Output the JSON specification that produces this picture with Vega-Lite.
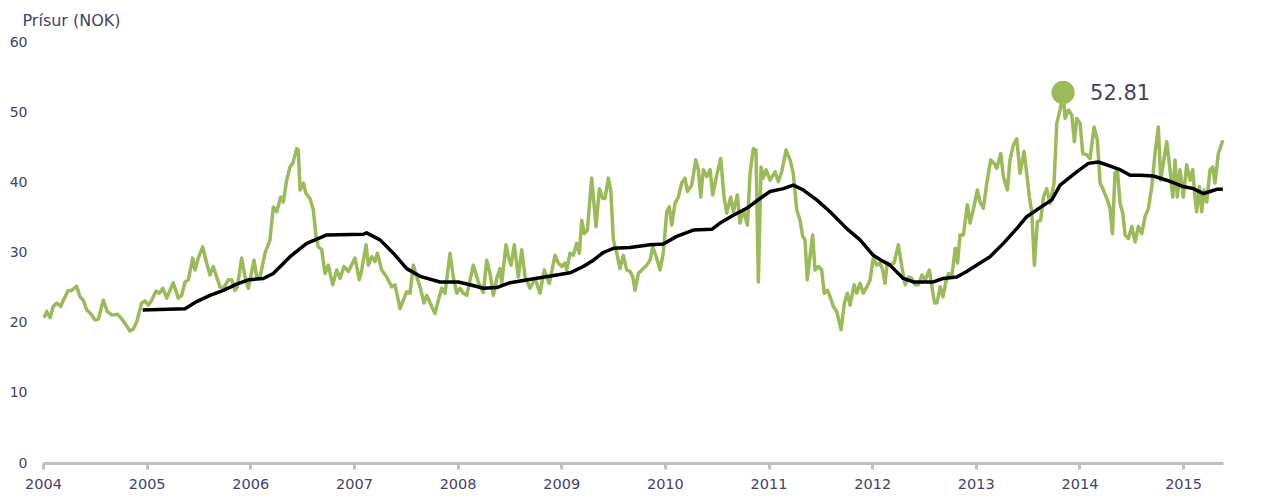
{
  "$schema": "https://vega.github.io/schema/vega-lite/v6.json",
  "width": 1180,
  "height": 421,
  "autosize": "none",
  "padding": {"left": 43, "top": 42, "right": 51, "bottom": 33},
  "background": "white",
  "config": {
    "view": {"stroke": null},
    "font": "DejaVu Sans"
  },
  "datasets": {
    "weekly": [
      {"year": 2004.010, "price": 20.7}, {"year": 2004.036, "price": 21.6}, {"year": 2004.068, "price": 20.7}, {"year": 2004.099, "price": 22.3},
      {"year": 2004.132, "price": 22.8}, {"year": 2004.171, "price": 22.3}, {"year": 2004.196, "price": 23.2}, {"year": 2004.244, "price": 24.6},
      {"year": 2004.277, "price": 24.6}, {"year": 2004.325, "price": 25.2}, {"year": 2004.357, "price": 23.7}, {"year": 2004.389, "price": 23.2},
      {"year": 2004.422, "price": 21.8}, {"year": 2004.453, "price": 21.4}, {"year": 2004.502, "price": 20.4}, {"year": 2004.534, "price": 20.5},
      {"year": 2004.582, "price": 23.2}, {"year": 2004.620, "price": 21.6}, {"year": 2004.663, "price": 21.1}, {"year": 2004.717, "price": 21.2},
      {"year": 2004.750, "price": 20.7}, {"year": 2004.791, "price": 19.9}, {"year": 2004.839, "price": 18.8}, {"year": 2004.871, "price": 19.1},
      {"year": 2004.904, "price": 20.1}, {"year": 2004.952, "price": 22.8}, {"year": 2004.984, "price": 23.1}, {"year": 2005.016, "price": 22.5},
      {"year": 2005.049, "price": 23.2}, {"year": 2005.090, "price": 24.5}, {"year": 2005.122, "price": 24.2}, {"year": 2005.155, "price": 24.9},
      {"year": 2005.194, "price": 23.5}, {"year": 2005.225, "price": 24.6}, {"year": 2005.257, "price": 25.7}, {"year": 2005.305, "price": 23.5},
      {"year": 2005.338, "price": 23.9}, {"year": 2005.370, "price": 25.8}, {"year": 2005.402, "price": 26.1}, {"year": 2005.444, "price": 29.2},
      {"year": 2005.467, "price": 27.5}, {"year": 2005.498, "price": 29.2}, {"year": 2005.541, "price": 30.8}, {"year": 2005.579, "price": 28.5},
      {"year": 2005.611, "price": 26.8}, {"year": 2005.643, "price": 28.0}, {"year": 2005.676, "price": 26.5}, {"year": 2005.708, "price": 25.1},
      {"year": 2005.740, "price": 24.9}, {"year": 2005.788, "price": 26.1}, {"year": 2005.821, "price": 26.1}, {"year": 2005.853, "price": 24.6},
      {"year": 2005.875, "price": 25.1}, {"year": 2005.917, "price": 29.2}, {"year": 2005.949, "price": 26.5}, {"year": 2005.981, "price": 24.9},
      {"year": 2006.036, "price": 28.9}, {"year": 2006.062, "price": 26.5}, {"year": 2006.094, "price": 26.5}, {"year": 2006.142, "price": 29.9},
      {"year": 2006.190, "price": 31.8}, {"year": 2006.222, "price": 36.5}, {"year": 2006.255, "price": 35.8}, {"year": 2006.293, "price": 37.9},
      {"year": 2006.319, "price": 37.2}, {"year": 2006.351, "price": 40.3}, {"year": 2006.383, "price": 42.2}, {"year": 2006.409, "price": 42.7},
      {"year": 2006.448, "price": 44.8}, {"year": 2006.463, "price": 44.6}, {"year": 2006.480, "price": 38.9}, {"year": 2006.512, "price": 39.9},
      {"year": 2006.538, "price": 38.4}, {"year": 2006.576, "price": 37.7}, {"year": 2006.608, "price": 36.1}, {"year": 2006.634, "price": 32.3},
      {"year": 2006.656, "price": 30.8}, {"year": 2006.689, "price": 30.4}, {"year": 2006.721, "price": 27.0}, {"year": 2006.753, "price": 28.2},
      {"year": 2006.795, "price": 25.4}, {"year": 2006.834, "price": 27.5}, {"year": 2006.866, "price": 26.3}, {"year": 2006.904, "price": 28.0},
      {"year": 2006.946, "price": 27.3}, {"year": 2007.010, "price": 29.2}, {"year": 2007.052, "price": 26.1}, {"year": 2007.075, "price": 27.5},
      {"year": 2007.117, "price": 31.1}, {"year": 2007.139, "price": 28.2}, {"year": 2007.172, "price": 29.4}, {"year": 2007.203, "price": 28.7},
      {"year": 2007.226, "price": 29.9}, {"year": 2007.268, "price": 27.5}, {"year": 2007.316, "price": 26.5}, {"year": 2007.365, "price": 25.1},
      {"year": 2007.396, "price": 25.4}, {"year": 2007.445, "price": 22.0}, {"year": 2007.476, "price": 23.2}, {"year": 2007.509, "price": 24.4},
      {"year": 2007.541, "price": 24.2}, {"year": 2007.573, "price": 28.2}, {"year": 2007.606, "price": 26.5}, {"year": 2007.638, "price": 25.1},
      {"year": 2007.676, "price": 22.8}, {"year": 2007.702, "price": 23.9}, {"year": 2007.750, "price": 22.3}, {"year": 2007.782, "price": 21.3},
      {"year": 2007.814, "price": 23.2}, {"year": 2007.847, "price": 24.9}, {"year": 2007.879, "price": 24.2}, {"year": 2007.927, "price": 29.9},
      {"year": 2007.959, "price": 26.5}, {"year": 2007.992, "price": 24.2}, {"year": 2008.023, "price": 24.9}, {"year": 2008.055, "price": 24.2},
      {"year": 2008.088, "price": 23.9}, {"year": 2008.152, "price": 28.2}, {"year": 2008.200, "price": 25.8}, {"year": 2008.248, "price": 24.3},
      {"year": 2008.281, "price": 28.9}, {"year": 2008.313, "price": 27.0}, {"year": 2008.345, "price": 23.9}, {"year": 2008.378, "price": 26.3},
      {"year": 2008.409, "price": 27.7}, {"year": 2008.426, "price": 25.6}, {"year": 2008.467, "price": 31.1}, {"year": 2008.490, "price": 29.4},
      {"year": 2008.516, "price": 28.2}, {"year": 2008.547, "price": 31.1}, {"year": 2008.586, "price": 26.5}, {"year": 2008.619, "price": 30.4},
      {"year": 2008.651, "price": 26.5}, {"year": 2008.699, "price": 24.9}, {"year": 2008.747, "price": 26.3}, {"year": 2008.795, "price": 24.2},
      {"year": 2008.837, "price": 27.5}, {"year": 2008.885, "price": 25.6}, {"year": 2008.940, "price": 29.6}, {"year": 2008.972, "price": 28.5},
      {"year": 2009.005, "price": 28.0}, {"year": 2009.037, "price": 28.5}, {"year": 2009.053, "price": 27.5}, {"year": 2009.085, "price": 29.9},
      {"year": 2009.117, "price": 29.6}, {"year": 2009.149, "price": 31.3}, {"year": 2009.175, "price": 29.9}, {"year": 2009.198, "price": 34.6},
      {"year": 2009.223, "price": 32.7}, {"year": 2009.252, "price": 33.2}, {"year": 2009.294, "price": 40.6}, {"year": 2009.336, "price": 33.7},
      {"year": 2009.368, "price": 39.1}, {"year": 2009.400, "price": 37.7}, {"year": 2009.423, "price": 37.7}, {"year": 2009.454, "price": 40.6},
      {"year": 2009.478, "price": 38.9}, {"year": 2009.503, "price": 31.8}, {"year": 2009.536, "price": 29.9}, {"year": 2009.567, "price": 27.7},
      {"year": 2009.599, "price": 29.6}, {"year": 2009.632, "price": 27.5}, {"year": 2009.664, "price": 27.3}, {"year": 2009.690, "price": 26.5},
      {"year": 2009.712, "price": 24.6}, {"year": 2009.744, "price": 27.0}, {"year": 2009.777, "price": 27.5}, {"year": 2009.825, "price": 28.2},
      {"year": 2009.857, "price": 28.9}, {"year": 2009.883, "price": 30.8}, {"year": 2009.921, "price": 29.2}, {"year": 2009.953, "price": 27.5},
      {"year": 2009.985, "price": 29.9}, {"year": 2010.018, "price": 35.8}, {"year": 2010.043, "price": 36.5}, {"year": 2010.066, "price": 33.9},
      {"year": 2010.098, "price": 37.0}, {"year": 2010.130, "price": 37.9}, {"year": 2010.163, "price": 39.9}, {"year": 2010.194, "price": 40.6},
      {"year": 2010.217, "price": 38.7}, {"year": 2010.259, "price": 39.6}, {"year": 2010.298, "price": 43.2}, {"year": 2010.323, "price": 41.8},
      {"year": 2010.346, "price": 37.9}, {"year": 2010.371, "price": 41.8}, {"year": 2010.404, "price": 40.8}, {"year": 2010.436, "price": 41.8},
      {"year": 2010.462, "price": 38.2}, {"year": 2010.494, "price": 40.6}, {"year": 2010.539, "price": 43.4}, {"year": 2010.571, "price": 37.9},
      {"year": 2010.597, "price": 35.6}, {"year": 2010.635, "price": 37.9}, {"year": 2010.661, "price": 35.8}, {"year": 2010.699, "price": 38.2},
      {"year": 2010.725, "price": 34.2}, {"year": 2010.757, "price": 36.1}, {"year": 2010.796, "price": 33.9}, {"year": 2010.822, "price": 41.3},
      {"year": 2010.853, "price": 44.8}, {"year": 2010.879, "price": 44.6}, {"year": 2010.902, "price": 25.8}, {"year": 2010.928, "price": 42.2},
      {"year": 2010.950, "price": 40.6}, {"year": 2010.976, "price": 41.8}, {"year": 2011.015, "price": 40.3}, {"year": 2011.063, "price": 41.5},
      {"year": 2011.095, "price": 40.1}, {"year": 2011.127, "price": 41.5}, {"year": 2011.169, "price": 44.6}, {"year": 2011.208, "price": 43.2},
      {"year": 2011.239, "price": 41.3}, {"year": 2011.272, "price": 36.1}, {"year": 2011.304, "price": 34.6}, {"year": 2011.330, "price": 32.3},
      {"year": 2011.352, "price": 31.8}, {"year": 2011.374, "price": 26.1}, {"year": 2011.400, "price": 29.4}, {"year": 2011.426, "price": 32.5},
      {"year": 2011.449, "price": 27.5}, {"year": 2011.481, "price": 28.0}, {"year": 2011.513, "price": 27.5}, {"year": 2011.538, "price": 24.2},
      {"year": 2011.571, "price": 24.6}, {"year": 2011.594, "price": 23.7}, {"year": 2011.625, "price": 22.3}, {"year": 2011.658, "price": 21.6},
      {"year": 2011.700, "price": 19.0}, {"year": 2011.732, "price": 22.8}, {"year": 2011.761, "price": 24.2}, {"year": 2011.787, "price": 22.5},
      {"year": 2011.826, "price": 25.4}, {"year": 2011.851, "price": 24.2}, {"year": 2011.883, "price": 25.6}, {"year": 2011.915, "price": 24.2},
      {"year": 2011.948, "price": 25.1}, {"year": 2011.979, "price": 26.0}, {"year": 2012.011, "price": 29.2}, {"year": 2012.043, "price": 28.2},
      {"year": 2012.075, "price": 28.5}, {"year": 2012.102, "price": 27.5}, {"year": 2012.124, "price": 25.6}, {"year": 2012.146, "price": 28.5},
      {"year": 2012.179, "price": 28.2}, {"year": 2012.211, "price": 28.5}, {"year": 2012.253, "price": 31.1}, {"year": 2012.286, "price": 28.0},
      {"year": 2012.318, "price": 25.4}, {"year": 2012.350, "price": 26.5}, {"year": 2012.383, "price": 26.3}, {"year": 2012.415, "price": 25.4},
      {"year": 2012.447, "price": 25.4}, {"year": 2012.480, "price": 26.8}, {"year": 2012.512, "price": 26.1}, {"year": 2012.552, "price": 27.5},
      {"year": 2012.577, "price": 25.1}, {"year": 2012.602, "price": 22.8}, {"year": 2012.625, "price": 22.8}, {"year": 2012.657, "price": 25.1},
      {"year": 2012.683, "price": 23.7}, {"year": 2012.715, "price": 26.1}, {"year": 2012.737, "price": 27.0}, {"year": 2012.770, "price": 26.8},
      {"year": 2012.802, "price": 30.6}, {"year": 2012.824, "price": 28.5}, {"year": 2012.848, "price": 32.5}, {"year": 2012.880, "price": 32.5},
      {"year": 2012.919, "price": 36.8}, {"year": 2012.944, "price": 34.2}, {"year": 2012.976, "price": 36.1}, {"year": 2013.015, "price": 38.9},
      {"year": 2013.041, "price": 37.2}, {"year": 2013.073, "price": 36.3}, {"year": 2013.106, "price": 39.9}, {"year": 2013.144, "price": 43.2},
      {"year": 2013.176, "price": 42.7}, {"year": 2013.202, "price": 42.0}, {"year": 2013.241, "price": 44.1}, {"year": 2013.266, "price": 40.8},
      {"year": 2013.304, "price": 38.9}, {"year": 2013.330, "price": 43.2}, {"year": 2013.362, "price": 45.3}, {"year": 2013.395, "price": 46.2},
      {"year": 2013.427, "price": 41.3}, {"year": 2013.465, "price": 44.4}, {"year": 2013.491, "price": 41.3}, {"year": 2013.517, "price": 37.9},
      {"year": 2013.540, "price": 35.8}, {"year": 2013.565, "price": 28.2}, {"year": 2013.594, "price": 34.4}, {"year": 2013.626, "price": 34.6},
      {"year": 2013.652, "price": 37.9}, {"year": 2013.684, "price": 39.1}, {"year": 2013.716, "price": 37.0}, {"year": 2013.755, "price": 39.9},
      {"year": 2013.781, "price": 48.4}, {"year": 2013.813, "price": 50.3}, {"year": 2013.842, "price": 52.81}, {"year": 2013.861, "price": 49.1},
      {"year": 2013.893, "price": 50.3}, {"year": 2013.926, "price": 49.6}, {"year": 2013.951, "price": 45.8}, {"year": 2013.974, "price": 49.1},
      {"year": 2014.006, "price": 48.4}, {"year": 2014.032, "price": 44.1}, {"year": 2014.071, "price": 43.9}, {"year": 2014.102, "price": 43.4},
      {"year": 2014.141, "price": 47.9}, {"year": 2014.173, "price": 46.0}, {"year": 2014.199, "price": 39.9}, {"year": 2014.231, "price": 38.9},
      {"year": 2014.264, "price": 37.7}, {"year": 2014.295, "price": 36.3}, {"year": 2014.318, "price": 32.7}, {"year": 2014.343, "price": 41.3},
      {"year": 2014.366, "price": 41.8}, {"year": 2014.392, "price": 37.0}, {"year": 2014.418, "price": 35.6}, {"year": 2014.440, "price": 32.5},
      {"year": 2014.472, "price": 32.0}, {"year": 2014.505, "price": 33.7}, {"year": 2014.537, "price": 31.5}, {"year": 2014.568, "price": 33.7},
      {"year": 2014.601, "price": 32.7}, {"year": 2014.633, "price": 35.1}, {"year": 2014.665, "price": 36.3}, {"year": 2014.698, "price": 39.4},
      {"year": 2014.729, "price": 44.1}, {"year": 2014.761, "price": 47.9}, {"year": 2014.784, "price": 40.3}, {"year": 2014.809, "price": 42.7},
      {"year": 2014.842, "price": 45.8}, {"year": 2014.874, "price": 41.8}, {"year": 2014.900, "price": 37.9}, {"year": 2014.922, "price": 43.2},
      {"year": 2014.944, "price": 37.9}, {"year": 2014.970, "price": 41.8}, {"year": 2015.002, "price": 37.9}, {"year": 2015.035, "price": 42.5},
      {"year": 2015.067, "price": 40.3}, {"year": 2015.093, "price": 41.8}, {"year": 2015.115, "price": 37.9}, {"year": 2015.131, "price": 35.8},
      {"year": 2015.157, "price": 39.4}, {"year": 2015.180, "price": 35.8}, {"year": 2015.202, "price": 38.9}, {"year": 2015.228, "price": 37.2},
      {"year": 2015.260, "price": 41.8}, {"year": 2015.286, "price": 42.2}, {"year": 2015.308, "price": 39.9}, {"year": 2015.340, "price": 44.1},
      {"year": 2015.383, "price": 46.0}
    ],
    "average": [
      {"year": 2004.962, "price": 21.8}, {"year": 2005.370, "price": 22.0}, {"year": 2005.483, "price": 23.0}, {"year": 2005.611, "price": 23.9},
      {"year": 2005.740, "price": 24.6}, {"year": 2005.869, "price": 25.5}, {"year": 2005.981, "price": 26.1}, {"year": 2006.126, "price": 26.3},
      {"year": 2006.222, "price": 27.0}, {"year": 2006.383, "price": 29.4}, {"year": 2006.544, "price": 31.3}, {"year": 2006.705, "price": 32.3},
      {"year": 2006.737, "price": 32.5}, {"year": 2007.090, "price": 32.6}, {"year": 2007.122, "price": 32.8}, {"year": 2007.252, "price": 31.8},
      {"year": 2007.380, "price": 29.9}, {"year": 2007.509, "price": 27.7}, {"year": 2007.638, "price": 26.6}, {"year": 2007.831, "price": 25.8},
      {"year": 2008.007, "price": 25.8}, {"year": 2008.120, "price": 25.4}, {"year": 2008.248, "price": 24.9}, {"year": 2008.378, "price": 25.0},
      {"year": 2008.506, "price": 25.7}, {"year": 2008.634, "price": 26.0}, {"year": 2008.795, "price": 26.4}, {"year": 2008.957, "price": 26.8},
      {"year": 2009.085, "price": 27.1}, {"year": 2009.213, "price": 28.0}, {"year": 2009.310, "price": 28.9}, {"year": 2009.406, "price": 30.0},
      {"year": 2009.503, "price": 30.6}, {"year": 2009.664, "price": 30.7}, {"year": 2009.857, "price": 31.1}, {"year": 2009.985, "price": 31.2},
      {"year": 2010.114, "price": 32.3}, {"year": 2010.275, "price": 33.2}, {"year": 2010.452, "price": 33.3}, {"year": 2010.532, "price": 34.2},
      {"year": 2010.661, "price": 35.3}, {"year": 2010.790, "price": 36.3}, {"year": 2010.918, "price": 37.7}, {"year": 2011.015, "price": 38.7},
      {"year": 2011.143, "price": 39.1}, {"year": 2011.239, "price": 39.6}, {"year": 2011.336, "price": 38.9}, {"year": 2011.465, "price": 37.5},
      {"year": 2011.594, "price": 35.8}, {"year": 2011.755, "price": 33.4}, {"year": 2011.883, "price": 31.8}, {"year": 2012.011, "price": 29.6},
      {"year": 2012.075, "price": 29.0}, {"year": 2012.172, "price": 28.2}, {"year": 2012.300, "price": 26.3}, {"year": 2012.397, "price": 25.8},
      {"year": 2012.590, "price": 25.8}, {"year": 2012.687, "price": 26.3}, {"year": 2012.816, "price": 26.5}, {"year": 2012.912, "price": 27.3},
      {"year": 2013.041, "price": 28.5}, {"year": 2013.137, "price": 29.4}, {"year": 2013.266, "price": 31.3}, {"year": 2013.395, "price": 33.4},
      {"year": 2013.491, "price": 35.1}, {"year": 2013.620, "price": 36.4}, {"year": 2013.733, "price": 37.5}, {"year": 2013.813, "price": 39.6},
      {"year": 2013.974, "price": 41.5}, {"year": 2014.086, "price": 42.7}, {"year": 2014.182, "price": 42.9}, {"year": 2014.264, "price": 42.5},
      {"year": 2014.392, "price": 41.8}, {"year": 2014.489, "price": 41.0}, {"year": 2014.586, "price": 41.0}, {"year": 2014.713, "price": 40.9},
      {"year": 2014.842, "price": 40.3}, {"year": 2015.002, "price": 39.4}, {"year": 2015.099, "price": 39.1}, {"year": 2015.195, "price": 38.4},
      {"year": 2015.260, "price": 38.7}, {"year": 2015.324, "price": 39.0}, {"year": 2015.383, "price": 39.0}
    ],
    "peak": [
      {"year": 2013.842, "price": 52.81}
    ]
  },
  "encoding": {
    "x": {
      "field": "year",
      "type": "quantitative",
      "scale": {"domain": [2004, 2015.385], "nice": false, "zero": false},
      "axis": {
        "values": [2004, 2005, 2006, 2007, 2008, 2009, 2010, 2011, 2012, 2013, 2014, 2015],
        "format": "d",
        "title": null,
        "grid": false,
        "domainColor": "#c0c0c0",
        "domainWidth": 3,
        "tickColor": "#c0c0c0",
        "tickWidth": 3,
        "tickSize": 6,
        "labelFont": "DejaVu Sans",
        "labelFontSize": 14.5,
        "labelColor": "#434366",
        "labelPadding": 8,
        "labelFlush": false
      }
    },
    "y": {
      "field": "price",
      "type": "quantitative",
      "scale": {"domain": [0, 60], "nice": false},
      "axis": {
        "values": [0, 10, 20, 30, 40, 50, 60],
        "title": "Prísur (NOK)",
        "titleAngle": 0,
        "titleAlign": "left",
        "titleBaseline": "middle",
        "titleX": -21,
        "titleY": -22,
        "titleFont": "DejaVu Sans",
        "titleFontSize": 16,
        "titleFontWeight": "normal",
        "titleColor": "#434366",
        "grid": false,
        "domain": false,
        "ticks": false,
        "labelFont": "DejaVu Sans",
        "labelFontSize": 14,
        "labelColor": "#434366",
        "labelPadding": 16
      }
    }
  },
  "layer": [
    {
      "data": {"name": "weekly"},
      "mark": {"type": "line", "color": "#9bbb59", "strokeWidth": 3.5, "strokeJoin": "round"}
    },
    {
      "data": {"name": "average"},
      "mark": {"type": "line", "color": "#000000", "strokeWidth": 3.5, "strokeJoin": "round"}
    },
    {
      "data": {"name": "peak"},
      "mark": {"type": "point", "filled": true, "color": "#9bbb59", "opacity": 1, "size": 540}
    },
    {
      "data": {"name": "peak"},
      "mark": {"type": "text", "align": "left", "baseline": "middle", "dx": 27, "dy": 2, "fontSize": 21, "font": "DejaVu Sans", "color": "#434366"},
      "encoding": {"text": {"field": "price", "type": "quantitative", "format": ".2f"}}
    }
  ]
}
